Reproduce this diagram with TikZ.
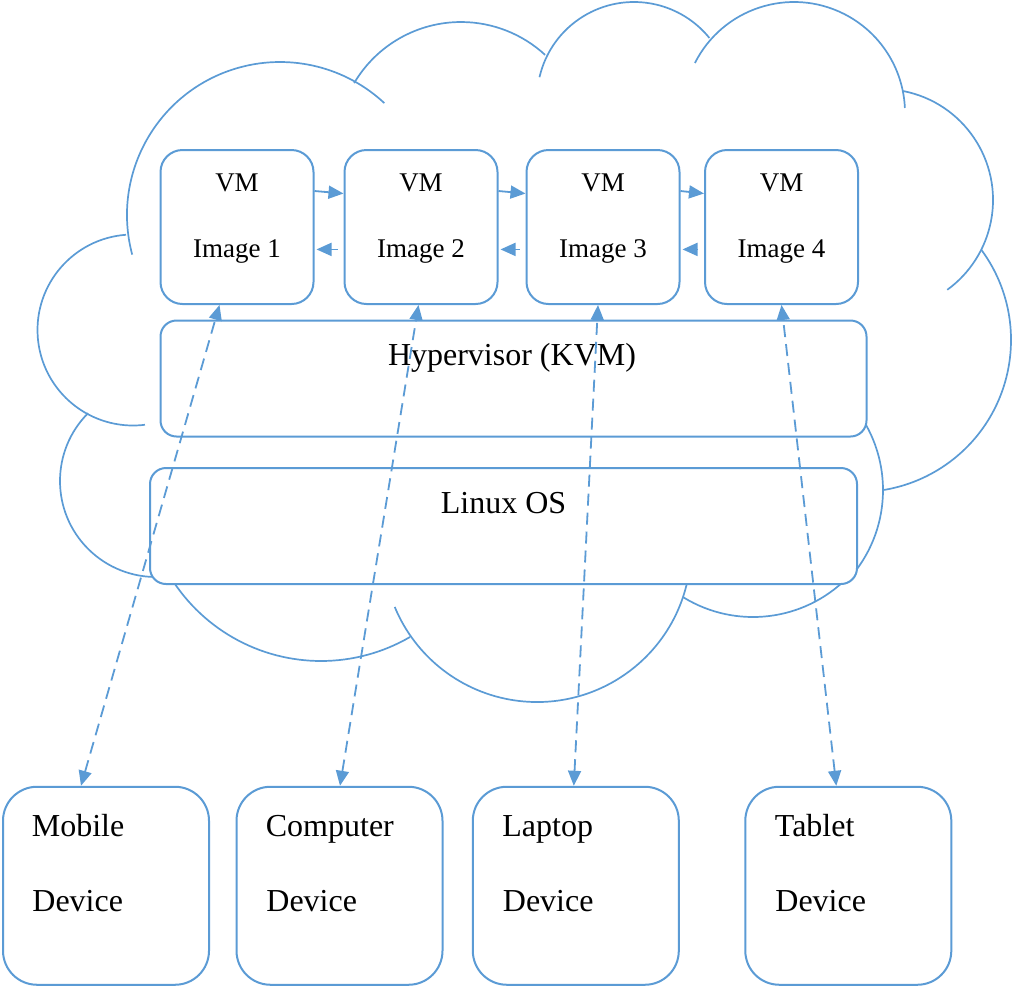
\documentclass[tikz,border=0pt]{standalone}
\usepackage{fontspec}
\setmainfont{Liberation Serif}
\usetikzlibrary{arrows.meta}
\definecolor{cloudblue}{RGB}{91,155,213}

% one bump of the cloud outline: centre, start angle, end angle, radius
\newcommand\cloudarc[4]{\draw[cloudline] (#1) ++(#2:#4) arc[start angle=#2, end angle=#3, radius=#4];}

\begin{document}
\begin{tikzpicture}[x=0.5pt,y=-0.5pt,
  cloudline/.style={draw=cloudblue, line width=0.85pt},
  box/.style={draw=cloudblue, line width=1pt, fill=white, rectangle, inner sep=0pt},
  vmbox/.style={box, rounded corners=11pt, minimum width=76.5pt, minimum height=77pt},
  layerbox/.style={box, rounded corners=8pt, minimum height=58pt},
  devbox/.style={box, rounded corners=17pt, minimum width=103pt, minimum height=99pt},
  vmtext/.style={inner sep=0pt, anchor=base, font=\fontsize{13.5}{16}\selectfont},
  bigtext/.style={inner sep=0pt, font=\fontsize{16}{19}\selectfont},
  tip/.tip={Triangle[length=7.5pt,width=6.5pt]},
  link/.style={draw=cloudblue, line width=0.9pt, -tip},
  access/.style={draw=cloudblue, line width=0.9pt, dash pattern=on 6pt off 3.5pt, tip-tip},
]
\useasboundingbox (0,0) rectangle (1016,987);

% cloud outline
\cloudarc{280,215}{165}{313}{153}
\cloudarc{461,146}{210.5}{312.7}{124}
\cloudarc{634,99}{193}{321}{97}
\cloudarc{794,113}{206.8}{357.4}{111}
\cloudarc{882,200}{-79}{54}{111}
\cloudarc{859,340}{-36.5}{80.5}{152}
\cloudarc{750,490}{-40}{40}{133}
\cloudarc{753,484}{45}{121.5}{133}
\cloudarc{537,548}{8}{157.5}{154}
\cloudarc{321,484}{59.8}{150}{177}
\cloudarc{156,481}{225}{88}{96}
\cloudarc{133,330}{265.8}{82.8}{95.5}

% virtual machine images
\node[vmbox] (vm1) at (237,227) {};
\node[vmbox] (vm2) at (421,227) {};
\node[vmbox] (vm3) at (603,227) {};
\node[vmbox] (vm4) at (781.5,227) {};
\node[vmtext] (vm1a) at (237,191.7) {VM};
\node[vmtext] (vm1b) at (237,257.3) {Image 1};
\node[vmtext] (vm2a) at (421,191.7) {VM};
\node[vmtext] (vm2b) at (421,257.3) {Image 2};
\node[vmtext] (vm3a) at (603,191.7) {VM};
\node[vmtext] (vm3b) at (603,257.3) {Image 3};
\node[vmtext] (vm4a) at (781.5,191.7) {VM};
\node[vmtext] (vm4b) at (781.5,257.3) {Image 4};

% layers
\node[layerbox, minimum width=353pt] (hyp) at (513.5,378.5) {};
\node[bigtext, anchor=base] (hyptext) at (512,365) {Hypervisor (KVM)};
\node[layerbox, minimum width=353.5pt] (os) at (503.5,526) {};
\node[bigtext, anchor=base] (ostext) at (503.5,513.3) {Linux OS};

% client devices
\node[devbox] (mob) at (106,885.75) {};
\node[devbox] (comp) at (339.5,885.75) {};
\node[devbox] (lap) at (575.8,885.75) {};
\node[devbox] (tab) at (848.3,885.75) {};
\node[bigtext, anchor=base west] (moba) at (31.5,836.7) {Mobile};
\node[bigtext, anchor=base west] (mobb) at (32,911.7) {Device};
\node[bigtext, anchor=base west] (compa) at (265.5,836.7) {Computer};
\node[bigtext, anchor=base west] (compb) at (266,911.7) {Device};
\node[bigtext, anchor=base west] (lapa) at (502,836.7) {Laptop};
\node[bigtext, anchor=base west] (lapb) at (502.5,911.7) {Device};
\node[bigtext, anchor=base west] (taba) at (774.5,836.7) {Tablet};
\node[bigtext, anchor=base west] (tabb) at (775,911.7) {Device};

% links between neighbouring images
\foreach \a/\b in {vm1/vm2, vm2/vm3, vm3/vm4} {
  \draw[link] ([yshift=18pt]\a.east) -- ([yshift=16.75pt]\b.west);
  \draw[link, shorten <=3pt, shorten >=1pt] ([yshift=-11.2pt]\b.west) -- ([yshift=-11.2pt]\a.east);
}

% device access
\draw[access] ([xshift=-12.5pt]mob.north) -- ([xshift=-8.75pt]vm1.south);
\draw[access] ([xshift=0.25pt]comp.north) -- ([xshift=-1.25pt]vm2.south);
\draw[access] ([xshift=-1pt]lap.north) -- ([xshift=-2.5pt]vm3.south);
\draw[access] ([xshift=-6pt]tab.north) -- ([xshift=0pt]vm4.south);
\end{tikzpicture}
\end{document}
